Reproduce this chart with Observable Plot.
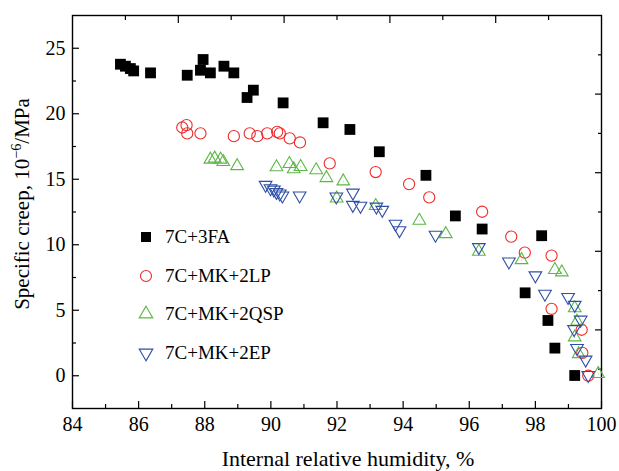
<!DOCTYPE html>
<html><head><meta charset="utf-8">
<script src="https://cdn.jsdelivr.net/npm/d3@7"></script>
<script src="https://cdn.jsdelivr.net/npm/@observablehq/plot@0.6"></script>
<style>
body{margin:0;background:#fff;}
#chart{position:relative;width:619px;height:471px;font-family:"Liberation Serif","Times New Roman",serif;color:#000;overflow:hidden;}
#chart > svg{position:absolute;left:0;top:0;}
.ttl{position:absolute;white-space:nowrap;font-size:21px;line-height:1;}
.leg{position:absolute;left:136px;height:20px;display:flex;align-items:center;font-size:19px;white-space:nowrap;}
.leg svg{width:20px;height:20px;margin-right:9px;overflow:visible;}
sup{font-size:0.68em;vertical-align:0.55em;line-height:0;}
</style></head><body><div id="chart"></div>
<script>
// ---- data ----
const seriesNames = ["7C+3FA", "7C+MK+2LP", "7C+MK+2QSP", "7C+MK+2EP"];

const faX = [85.45, 85.60, 85.75, 85.85, 86.36, 87.47, 87.87, 87.95, 88.17, 88.58, 88.88, 89.28, 89.47, 90.37, 91.58, 92.39, 93.28, 94.69, 95.58, 96.39, 97.69, 98.19, 98.38, 98.59, 99.19];
const faY = [23.78, 23.63, 23.45, 23.27, 23.12, 22.94, 23.32, 24.14, 23.12, 23.63, 23.12, 21.24, 21.80, 20.83, 19.31, 18.80, 17.10, 15.30, 12.20, 11.20, 6.33, 10.69, 4.22, 2.11, 0.02];

const lpX = [87.32, 87.45, 87.47, 87.87, 88.88, 89.36, 89.59, 89.89, 90.19, 90.27, 90.57, 90.88, 91.78, 93.17, 94.18, 94.79, 96.39, 97.27, 97.68, 98.49, 98.49, 99.40, 99.42, 99.60];
const lpY = [18.95, 19.13, 18.50, 18.50, 18.29, 18.50, 18.29, 18.50, 18.62, 18.50, 18.12, 17.81, 16.21, 15.55, 14.63, 13.62, 12.52, 10.62, 9.40, 9.17, 5.11, 3.51, 1.75, 0.00];

const qspX = [88.17, 88.30, 88.48, 88.56, 88.98, 90.17, 90.56, 90.69, 90.90, 91.37, 91.68, 91.99, 92.19, 93.17, 94.49, 95.29, 96.29, 97.58, 98.59, 98.80, 99.19, 99.26, 99.19, 99.31, 99.90];
const qspY = [16.51, 16.59, 16.51, 16.33, 16.01, 15.93, 16.18, 15.77, 15.95, 15.70, 15.10, 13.54, 14.85, 12.97, 11.84, 10.82, 9.48, 8.84, 8.08, 7.90, 5.16, 4.14, 2.94, 1.66, 0.14];

const epX = [89.84, 89.99, 90.09, 90.17, 90.27, 90.35, 90.87, 91.98, 92.48, 92.48, 92.71, 93.19, 93.37, 93.77, 93.89, 94.98, 96.29, 97.20, 98.00, 98.29, 98.99, 99.19, 99.37, 99.17, 99.26, 99.52, 99.60];
const epY = [14.56, 14.30, 14.20, 14.02, 13.90, 13.75, 13.75, 13.67, 13.97, 13.03, 12.96, 12.90, 12.65, 11.59, 11.10, 10.75, 9.81, 8.71, 7.65, 6.25, 6.00, 5.40, 4.27, 3.55, 2.11, 1.22, 0.05];

// tick values
const xMajor = [84, 86, 88, 90, 92, 94, 96, 98, 100];
const xMinor = [85, 87, 89, 91, 93, 95, 97, 99];
const yMajor = [0, 5, 10, 15, 20, 25];
const yMinor = [2.5, 7.5, 12.5, 17.5, 22.5];
const topMajor = [87.2, 90.4, 93.6, 96.8];
const topMinor = [85.6, 88.8, 92.0, 95.2, 98.4];
const rightMajor = [3.5, 9.5, 15.5, 21.5];
const rightMinor = [0.5, 6.5, 12.5, 18.5, 24.5];

const xTitle = "Internal relative humidity, %";

// ---- build ----
const toRows = (xs, ys) => xs.map((x, i) => ({x, y: ys[i]}));
const fa = toRows(faX, faY), lp = toRows(lpX, lpY), qsp = toRows(qspX, qspY), ep = toRows(epX, epY);

const colors = {fa: "#000000", lp: "#ee2c2c", qsp: "#5cb746", ep: "#2e4ea8"};
const noLabel = () => "";

const plot = Plot.plot({
  width: 619, height: 471,
  marginLeft: 72, marginRight: 18, marginTop: 15, marginBottom: 63,
  x: {domain: [84, 100]},
  y: {domain: [-2.5, 27.5]},
  style: {fontFamily: "Liberation Serif, Times New Roman, serif", fontSize: "19px", color: "#000", background: "transparent"},
  marks: [
    Plot.axisX({ticks: xMajor, tickSize: -7, tickPadding: 15, tickFormat: d3.format("d"), fontSize: 20, label: null, strokeWidth: 1.2}),
    Plot.axisX({ticks: xMinor, tickSize: -4, tickFormat: noLabel, label: null, strokeWidth: 1.2}),
    Plot.axisX({anchor: "top", ticks: topMajor, tickSize: -7, tickFormat: noLabel, label: null, strokeWidth: 1.2}),
    Plot.axisX({anchor: "top", ticks: topMinor, tickSize: -4, tickFormat: noLabel, label: null, strokeWidth: 1.2}),
    Plot.axisY({ticks: yMajor, tickSize: -7, tickPadding: 14, tickFormat: d3.format("d"), fontSize: 20, label: null, strokeWidth: 1.2}),
    Plot.axisY({ticks: yMinor, tickSize: -4, tickFormat: noLabel, label: null, strokeWidth: 1.2}),
    Plot.axisY({anchor: "right", ticks: rightMajor, tickSize: -7, tickFormat: noLabel, label: null, strokeWidth: 1.2}),
    Plot.axisY({anchor: "right", ticks: rightMinor, tickSize: -4, tickFormat: noLabel, label: null, strokeWidth: 1.2}),
    Plot.frame({stroke: "#000", strokeWidth: 1.4}),
    Plot.dot(fa, {x: "x", y: "y", symbol: "square", r: 6.1, fill: colors.fa, stroke: "none"}),
    Plot.dot(lp, {x: "x", y: "y", symbol: "circle", r: 5.6, fill: "none", stroke: colors.lp, strokeWidth: 1.1}),
    Plot.dot(qsp, {x: "x", y: "y", symbol: "triangle", r: 4.7, fill: "none", stroke: colors.qsp, strokeWidth: 1.1}),
    Plot.dot(qsp, {x: "x", y: "y", r: 0.45, fill: colors.qsp, stroke: "none"}),
    Plot.dot(ep, {x: "x", y: "y", symbol: "triangle", rotate: 180, r: 4.7, fill: "none", stroke: colors.ep, strokeWidth: 1.1})
  ]
});

const chart = document.getElementById("chart");
chart.appendChild(plot);

// axis titles
const xt = document.createElement("div");
xt.className = "ttl"; xt.textContent = xTitle;
xt.style.fontSize = "22px";
xt.style.left = "348px"; xt.style.top = "448px"; xt.style.transform = "translateX(-50%)";
chart.appendChild(xt);

const yt = document.createElement("div");
yt.className = "ttl";
yt.innerHTML = "Specific creep, 10<sup>\u22126</sup>/MPa";
yt.style.left = "22px"; yt.style.top = "204px"; yt.style.transform = "translate(-50%,-50%) rotate(-90deg)";
chart.appendChild(yt);

// legend
const legendSpec = [
  {name: seriesNames[0], type: d3.symbolSquare, size: 100, fill: colors.fa, stroke: "none", rot: 0},
  {name: seriesNames[1], type: d3.symbolCircle, size: 95, fill: "none", stroke: colors.lp, rot: 0},
  {name: seriesNames[2], type: d3.symbolTriangle, size: 80, fill: "none", stroke: colors.qsp, rot: 0},
  {name: seriesNames[3], type: d3.symbolTriangle, size: 80, fill: "none", stroke: colors.ep, rot: 180}
];
const legendTop = [227, 266, 304, 343];
legendSpec.forEach((s, i) => {
  const row = document.createElement("div");
  row.className = "leg";
  row.style.top = legendTop[i] + "px";
  const svg = d3.create("svg").attr("viewBox", "-10 -10 20 20");
  svg.append("path").attr("d", d3.symbol(s.type, s.size)()).attr("fill", s.fill).attr("stroke", s.stroke)
     .attr("stroke-width", 1.1).attr("transform", `rotate(${s.rot})`);
  row.appendChild(svg.node());
  const t = document.createElement("span"); t.textContent = s.name;
  row.appendChild(t);
  chart.appendChild(row);
});
</script>
</body></html>
